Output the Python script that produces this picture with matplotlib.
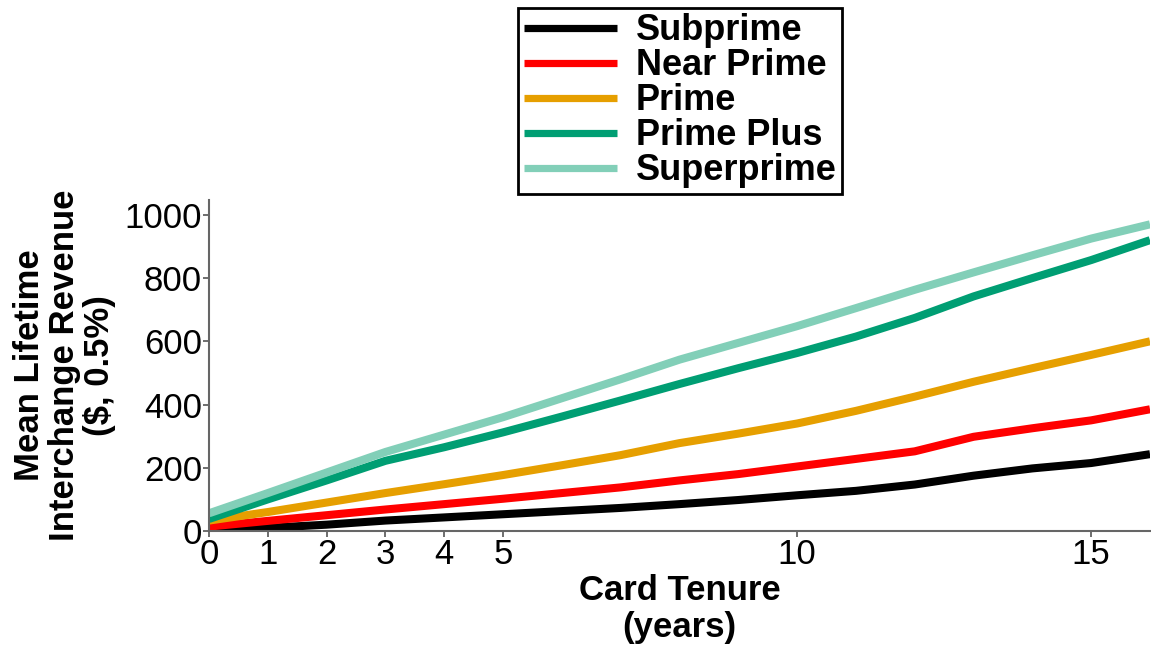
import matplotlib
matplotlib.use("Agg")
import matplotlib.pyplot as plt

years = list(range(0, 17))
subprime = [3, 10, 20, 33, 43, 53, 63, 73, 85, 98, 113, 127, 147, 175, 198, 215, 243]
near_prime = [14, 32, 50, 68, 85, 102, 120, 138, 160, 180, 204, 228, 252, 298, 325, 350, 385]
prime = [33, 60, 90, 120, 148, 177, 208, 240, 278, 308, 340, 380, 425, 472, 515, 557, 600]
prime_plus = [38, 100, 160, 222, 265, 312, 362, 413, 465, 515, 563, 615, 674, 742, 800, 857, 920]
superprime = [56, 120, 185, 250, 305, 360, 420, 480, 542, 595, 648, 705, 763, 818, 872, 925, 970]

series_names = ["Subprime", "Near Prime", "Prime", "Prime Plus", "Superprime"]
series_values = [subprime, near_prime, prime, prime_plus, superprime]
colors = ["#000000", "#FF0000", "#E69F00", "#009E73", "#82CFB8"]

x_ticks = [0, 1, 2, 3, 4, 5, 10, 15]
y_ticks = [0, 200, 400, 600, 800, 1000]

plt.rcParams["font.family"] = ["Liberation Sans", "DejaVu Sans"]

fig = plt.figure(figsize=(11.51, 6.5), dpi=100)
ax = fig.add_axes([209 / 1151, 119 / 650, 941 / 1151, 331 / 650])

for name, vals, c in zip(series_names, series_values, colors):
    ax.plot(years, vals, color=c, lw=5.8, label=name, solid_capstyle="butt")

ax.set_xlim(0, 16)
ax.set_ylim(0, 1047)
ax.set_xticks(x_ticks)
ax.set_yticks(y_ticks)
ax.tick_params(labelsize=25, colors="#555555", labelcolor="black", length=4, width=1.2, pad=1)
for s in ["top", "right"]:
    ax.spines[s].set_visible(False)
for s in ["left", "bottom"]:
    ax.spines[s].set_color("#666666")
    ax.spines[s].set_linewidth(1.5)

ax.set_xlabel("Card Tenure\n(years)", fontsize=25, fontweight="bold", labelpad=2, linespacing=1.15)
ax.set_ylabel("Mean Lifetime\nInterchange Revenue\n($, 0.5%)", fontsize=25, fontweight="bold",
              labelpad=6, linespacing=1.08)

leg = fig.legend(loc="upper center", bbox_to_anchor=(680 / 1151, 0.988), ncol=1,
                 prop={"size": 26, "weight": "bold"}, frameon=True, fancybox=False,
                 edgecolor="black", framealpha=1, labelspacing=0.0, handlelength=2.6,
                 handletextpad=0.5, borderpad=0.15, borderaxespad=0)
leg.get_frame().set_linewidth(2)
for h in leg.get_lines():
    h.set_linewidth(5.2)

fig.savefig("out.png", dpi=100)
